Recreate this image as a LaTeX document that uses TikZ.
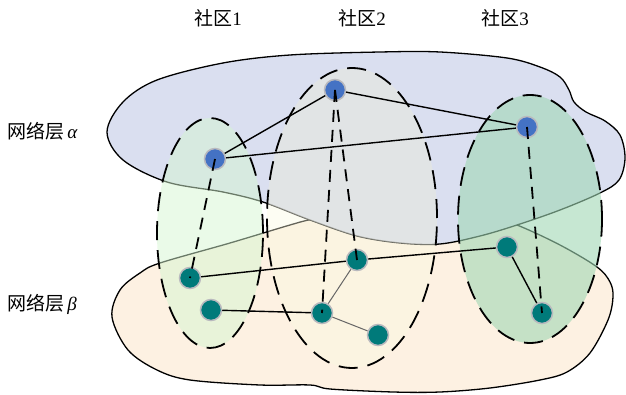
\documentclass[tikz,border=0pt]{standalone}
\usepackage{fontspec}
\setmainfont{Liberation Serif}
\newfontfamily\cjk{Noto Sans CJK SC}
\definecolor{bluefill}{RGB}{218,223,240}
\definecolor{peach}{RGB}{253,241,226}
\definecolor{cone}{RGB}{213,245,209}
\definecolor{ctwocream}{RGB}{250,250,225}
\definecolor{ctwogray}{RGB}{222,225,226}
\definecolor{cthree}{RGB}{160,215,180}
\definecolor{anodecol}{RGB}{68,114,196}
\definecolor{tnodecol}{RGB}{0,122,122}
\definecolor{nborder}{RGB}{185,185,190}
\tikzset{
  blob/.style={draw=black, line width=1.3pt},
  commline/.style={draw=black, line width=1.8pt, dash pattern=on 19pt off 10pt},
  anode/.style={circle, fill=anodecol, draw=nborder, line width=1.5pt, minimum size=21pt, inner sep=0pt},
  tnode/.style={circle, fill=tnodecol, draw=nborder, line width=1.5pt, minimum size=21pt, inner sep=0pt},
  solidedge/.style={draw=black, line width=1.4pt},
  grayedge/.style={draw=black!60, line width=1pt},
  vlink/.style={draw=black, line width=1.8pt, dash pattern=on 12pt off 8pt},
  lbl/.style={font=\fontsize{19}{22}\selectfont, inner sep=0pt}
}
\begin{document}
\begin{tikzpicture}[x=1pt,y=-1pt]
\useasboundingbox (0,0) rectangle (626,395);
% layer beta
\path[blob, fill=peach] plot[smooth cycle, tension=0.55] coordinates {
 (112,317) (120,290) (140,273) (160,263) (230,243) (290,225) (313,219)
 (360,210) (420,207) (480,213) (517,225) (560,245) (597,267) (610,282)
 (613,297) (608,320) (590,353) (567,372) (540,380) (490,388) (440,392)
 (393,392) (330,389) (310,385) (260,385) (190,380) (157,370) (128,350)};
% layer alpha
\path[blob, fill=bluefill] plot[smooth cycle, tension=0.55] coordinates {
 (107,132) (123,102) (157,80) (223,63) (290,55) (380,52) (440,52) (507,58)
 (540,67) (560,77) (569,90) (574,102) (586,112) (605,121) (620,135) (625,158)
 (619,180) (600,193) (560,210) (517,225) (480,236) (440,244) (400,243)
 (357,236) (310,220) (263,202) (223,192) (167,182) (123,160)};
% community fills
\fill[cone, fill opacity=0.5] (210,233) ellipse [x radius=53pt, y radius=115pt];
\fill[ctwocream, fill opacity=0.4] (352,218) ellipse [x radius=85pt, y radius=150pt];
\begin{scope}
\clip plot[smooth cycle, tension=0.55] coordinates {
 (107,132) (123,102) (157,80) (223,63) (290,55) (380,52) (440,52) (507,58)
 (540,67) (560,77) (569,90) (574,102) (586,112) (605,121) (620,135) (625,158)
 (619,180) (600,193) (560,210) (517,225) (480,236) (440,244) (400,243)
 (357,236) (310,220) (263,202) (223,192) (167,182) (123,160)};
\fill[ctwogray, fill opacity=0.5] (352,218) ellipse [x radius=85pt, y radius=150pt];
\end{scope}
\fill[cthree, fill opacity=0.6] (530,219) ellipse [x radius=72pt, y radius=124pt];
% community outlines
\draw[commline] (210,233) ellipse [x radius=53pt, y radius=115pt];
\draw[commline] (352,218) ellipse [x radius=85pt, y radius=150pt];
\draw[commline] (530,219) ellipse [x radius=72pt, y radius=124pt];
% nodes
\node[anode] (a1) at (215,159) {};
\node[anode] (a2) at (335,90) {};
\node[anode] (a3) at (527,127) {};
\node[tnode] (b1) at (190,278) {};
\node[tnode] (b2) at (211,310) {};
\node[tnode] (b3) at (357,260) {};
\node[tnode] (b4) at (322,313) {};
\node[tnode] (b5) at (378,335) {};
\node[tnode] (b6) at (507,247) {};
\node[tnode] (b7) at (542,313) {};
% intra-layer edges
\draw[solidedge] (a1) -- (a2);
\draw[solidedge] (a2) -- (a3);
\draw[solidedge] (a1) -- (a3);
\draw[solidedge] (b1) -- (b3);
\draw[solidedge] (b3) -- (b6);
\draw[solidedge] (b2) -- (b4);
\draw[solidedge] (b6) -- (b7);
\draw[grayedge] (b3) -- (b4);
\draw[grayedge] (b4) -- (b5);
% inter-layer links
\draw[vlink] (a1.center) -- (b1.center);
\draw[vlink] (a2.center) -- (b3.center);
\draw[vlink] (a2.center) -- (b4.center);
\draw[vlink] (a3.center) -- (b7.center);
% labels
\node[lbl] (t1) at (218,18) {{\cjk 社区}1};
\node[lbl] (t2) at (362,18) {{\cjk 社区}2};
\node[lbl] (t3) at (505,18) {{\cjk 社区}3};
\node[lbl, anchor=west] (la) at (7,131) {{\cjk 网络层}\,{\itshape α}};
\node[lbl, anchor=west] (lb) at (7,304) {{\cjk 网络层}\,{\itshape β}};
\end{tikzpicture}
\end{document}
